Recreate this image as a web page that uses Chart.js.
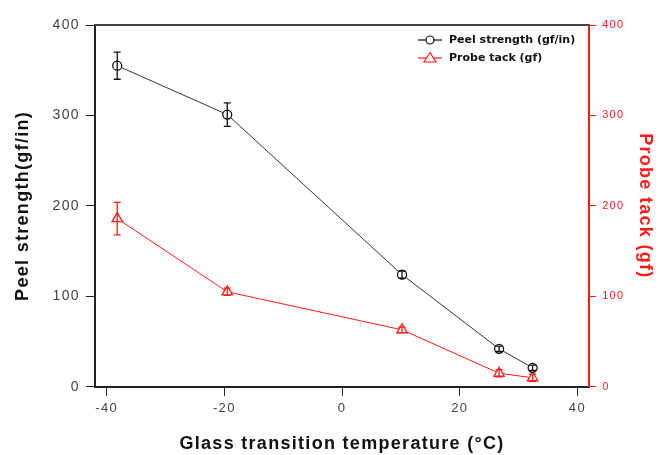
<!DOCTYPE html>
<html lang="en">
<head>
<meta charset="UTF-8">
<title>Peel strength and probe tack vs Tg</title>
<script src="https://cdn.jsdelivr.net/npm/chart.js@4.4.0/dist/chart.umd.min.js"></script>
<style>
  html, body { margin: 0; padding: 0; background: #fff; }
  #wrap { width: 659px; height: 455px; }
</style>
</head>
<body>
<div id="wrap"><canvas id="tgChart"></canvas></div>
<script>
// data
const tgValues = [-38.2, -19.5, 10.2, 26.7, 32.4];
const peelStrength = [355, 301, 124, 42, 21];
const peelError = [15, 13, 4, 3, 3];
const probeTack = [186, 105, 63, 15, 10];
const probeError = [18, 4, 3, 4, 4];
const xTicks = [-40, -20, 0, 20, 40];
const yTicks = [0, 100, 200, 300, 400];

const RED = '#ff1a1a';
const FONT = "'Liberation Sans', Arial, sans-serif";
const SPACING = '1.3px';

function pts(xs, ys) {
  return xs.map((x, i) => ({ x: x, y: ys[i] }));
}

// wider letter spacing like the original figure (set after every canvas reset)
const spacing = {
  id: 'spacing',
  beforeLayout(chart) { chart.ctx.letterSpacing = SPACING; },
  beforeDraw(chart) { chart.ctx.letterSpacing = SPACING; }
};

// error bars + top frame + legend
const extras = {
  id: 'extras',
  afterDatasetsDraw(chart) {
    const ctx = chart.ctx;
    const xs = chart.scales.x;
    const sets = [
      { ys: chart.scales.y, vals: peelStrength, err: peelError, color: '#111' },
      { ys: chart.scales.y2, vals: probeTack, err: probeError, color: RED }
    ];
    ctx.save();
    ctx.lineWidth = 1.3;
    sets.forEach(s => {
      ctx.strokeStyle = s.color;
      tgValues.forEach((t, i) => {
        const px = xs.getPixelForValue(t);
        const top = s.ys.getPixelForValue(s.vals[i] + s.err[i]);
        const bot = s.ys.getPixelForValue(s.vals[i] - s.err[i]);
        ctx.beginPath();
        ctx.moveTo(px, top); ctx.lineTo(px, bot);
        ctx.moveTo(px - 3.5, top); ctx.lineTo(px + 3.5, top);
        ctx.moveTo(px - 3.5, bot); ctx.lineTo(px + 3.5, bot);
        ctx.stroke();
      });
    });

    // top frame line
    const a = chart.chartArea;
    ctx.strokeStyle = '#444';
    ctx.lineWidth = 2;
    ctx.beginPath();
    ctx.moveTo(a.left, a.top); ctx.lineTo(a.right, a.top);
    ctx.stroke();

    // legend
    const lx = 418, entries = [
      { y: 40, color: '#111', label: 'Peel strength (gf/in)', shape: 'circle' },
      { y: 58, color: RED, label: 'Probe tack (gf)', shape: 'triangle' }
    ];
    ctx.letterSpacing = '0px';
    ctx.font = "bold 11px 'DejaVu Sans', sans-serif";
    ctx.textBaseline = 'middle';
    entries.forEach(e => {
      ctx.strokeStyle = e.color;
      ctx.lineWidth = 1.2;
      ctx.beginPath();
      ctx.moveTo(lx, e.y); ctx.lineTo(lx + 24, e.y);
      ctx.stroke();
      ctx.fillStyle = '#fff';
      ctx.beginPath();
      if (e.shape === 'circle') {
        ctx.arc(lx + 12, e.y, 4, 0, Math.PI * 2);
      } else {
        ctx.moveTo(lx + 12, e.y - 5.5);
        ctx.lineTo(lx + 18, e.y + 4);
        ctx.lineTo(lx + 6, e.y + 4);
        ctx.closePath();
      }
      ctx.fill();
      ctx.stroke();
      ctx.fillStyle = '#111';
      ctx.fillText(e.label, lx + 31, e.y);
    });
    ctx.restore();
  }
};

new Chart(document.getElementById('tgChart'), {
  type: 'line',
  data: {
    datasets: [
      {
        label: 'Peel strength (gf/in)',
        data: pts(tgValues, peelStrength),
        yAxisID: 'y',
        borderColor: '#333',
        borderWidth: 1,
        pointStyle: 'circle',
        pointRadius: 4.5,
        pointBorderWidth: 1.3,
        pointBackgroundColor: '#fff',
        pointBorderColor: '#111',
        tension: 0
      },
      {
        label: 'Probe tack (gf)',
        data: pts(tgValues, probeTack),
        yAxisID: 'y2',
        borderColor: RED,
        borderWidth: 1,
        pointStyle: 'triangle',
        pointRadius: 6,
        pointBorderWidth: 1.3,
        pointBackgroundColor: '#fff',
        pointBorderColor: RED,
        tension: 0
      }
    ]
  },
  options: {
    responsive: true,
    maintainAspectRatio: false,
    animation: false,
    layout: { padding: { top: 25, right: 3, bottom: 0, left: 10 } },
    plugins: { legend: { display: false }, tooltip: { enabled: false } },
    scales: {
      x: {
        type: 'linear',
        min: -42, max: 42,
        afterBuildTicks: s => { s.ticks = xTicks.map(v => ({ value: v })); },
        grid: { drawOnChartArea: false, tickLength: 9, color: '#222', lineWidth: 1 },
        border: { color: '#222', width: 2 },
        ticks: { color: '#444', font: { family: FONT, size: 13 }, padding: 5 },
        title: {
          display: true,
          text: 'Glass transition temperature (°C)',
          color: '#111',
          font: { family: FONT, size: 18, weight: 'bold' },
          padding: { top: 12, bottom: 0 }
        }
      },
      y: {
        type: 'linear',
        position: 'left',
        min: 0, max: 400,
        afterBuildTicks: s => { s.ticks = yTicks.map(v => ({ value: v })); },
        grid: { drawOnChartArea: false, tickLength: 9, color: '#222', lineWidth: 1 },
        border: { color: '#222', width: 2 },
        ticks: { color: '#444', font: { family: FONT, size: 14 }, padding: 6 },
        title: {
          display: true,
          text: 'Peel strength(gf/in)',
          color: '#111',
          font: { family: FONT, size: 18, weight: 'bold' },
          padding: { top: 2, bottom: 13 }
        }
      },
      y2: {
        type: 'linear',
        position: 'right',
        min: 0, max: 400,
        afterBuildTicks: s => { s.ticks = yTicks.map(v => ({ value: v })); },
        grid: { drawOnChartArea: false, tickLength: 7, color: RED, lineWidth: 1 },
        border: { color: RED, width: 2 },
        ticks: { color: RED, font: { family: FONT, size: 11 }, padding: 6 },
        title: {
          display: true,
          text: 'Probe tack (gf)',
          color: RED,
          font: { family: FONT, size: 18, weight: 'bold' },
          padding: { top: 0, bottom: 4 }
        }
      }
    }
  },
  plugins: [spacing, extras]
});
</script>
</body>
</html>
